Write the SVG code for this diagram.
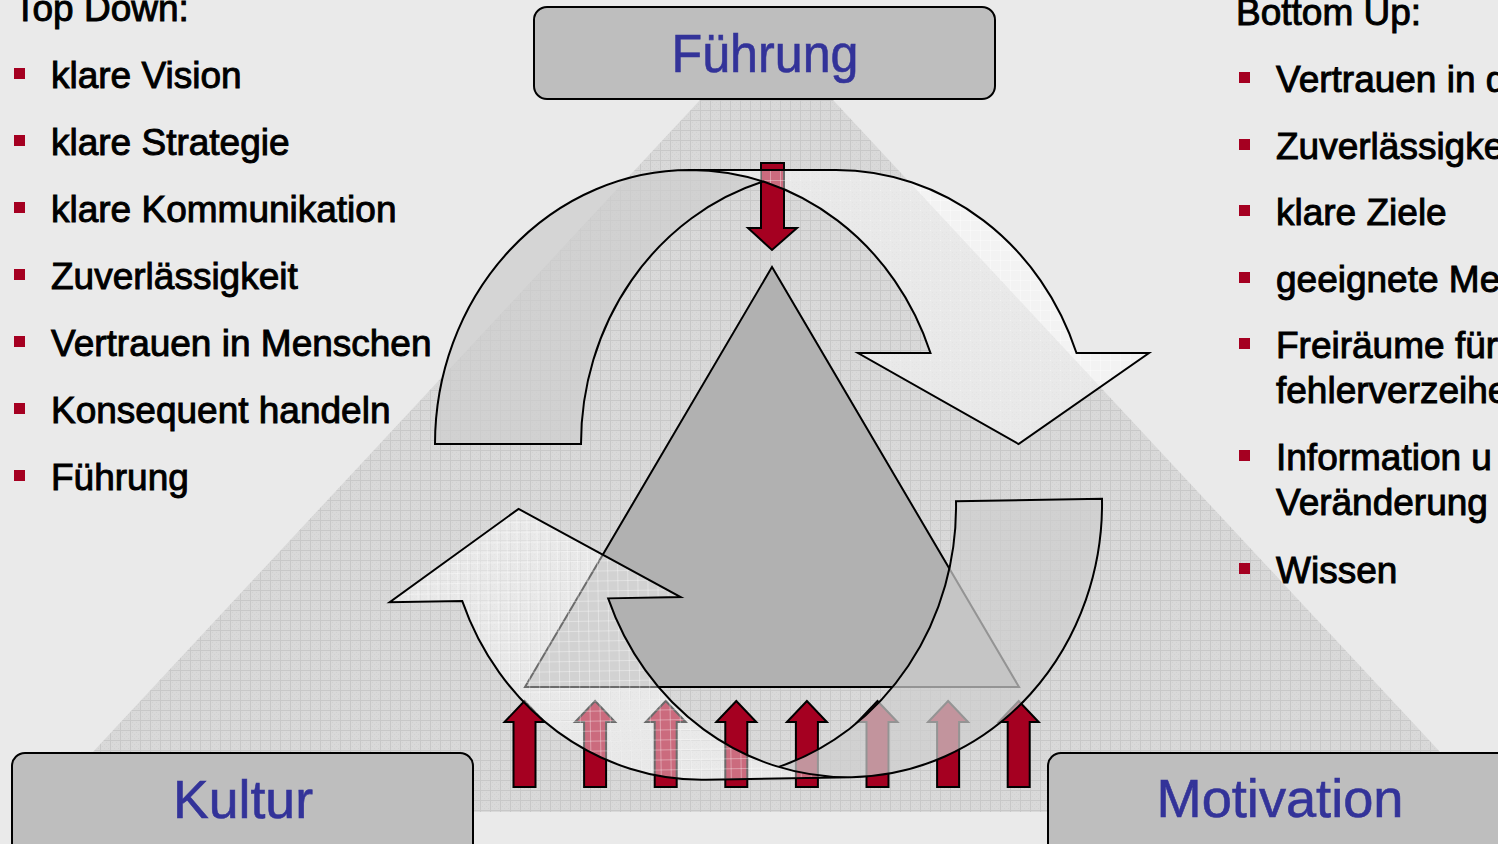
<svg xmlns="http://www.w3.org/2000/svg" width="1498" height="844" viewBox="0 0 1498 844">
<style>
.bt{font-family:"Liberation Sans",Arial,sans-serif;font-size:37px;fill:#000;stroke:#000;stroke-width:0.95}
.lbl{font-family:"Liberation Sans",Arial,sans-serif;font-size:54px;fill:#333399;stroke:#333399;stroke-width:0.6;text-anchor:middle}
.box{fill:#BEBEBE;stroke:#000;stroke-width:2}
.bul{fill:#A50021}
.red{fill:#A50021;stroke:#000;stroke-width:2}
.hd{fill:#FFFFFF;fill-opacity:0.42}
.tl{fill:#CDCDCD;fill-opacity:0.72}
.ol{fill:none;stroke:#000;stroke-width:2}
</style>
<defs>
  <!-- squared paper texture for the background pyramid -->
  <pattern id="grid" width="10" height="10" patternUnits="userSpaceOnUse">
    <rect width="10" height="10" fill="#D9D9D9"/>
    <path d="M2 2h1v1h-1zM4 4h1v1h-1zM6 6h1v1h-1zM8 8h1v1h-1zM2 6h1v1h-1zM6 2h1v1h-1zM4 8h1v1h-1zM8 4h1v1h-1z" fill="#D1D1D1"/>
    <path d="M0 0.5H10M0.5 0V10" stroke="#C8C8C8" stroke-width="1"/>
  </pattern>
  <!-- lighter squares laid over the translucent cycle arrows -->
  <pattern id="gridLight" width="10" height="10" patternUnits="userSpaceOnUse">
    <path d="M0 0.5H10M0.5 0V10" stroke="#FFFFFF" stroke-opacity="0.35" stroke-width="1"/>
  </pattern>
  <!-- curved down arrow: light head band, darker tail band, outline -->
  <path id="cyc-head" d="M1018.5 444L858 353H930.5A255 274 0 0 0 690 170H836A255 274 0 0 1 1076.5 353H1149Z"/>
  <path id="cyc-tail" d="M763 181.5A255 274 0 0 0 581 444H435A255 274 0 0 1 763 181.5Z"/>
  <path id="cyc-line" d="M763 181.5A255 274 0 0 0 581 444H435A255 274 0 0 1 690 170H836A255 274 0 0 1 1076.5 353H1149L1018.5 444L858 353H930.5A255 274 0 0 0 690 170"/>
  <path id="up" d="M-11 787V722H-20L0 701L20 722H11V787Z"/>
</defs>

<rect width="1498" height="844" fill="#EAEAEA"/>

<!-- background pyramid -->
<polygon points="766.5,28.6 37,812 1496,812" fill="url(#grid)"/>

<!-- central triangle -->
<g id="core">
  <polygon points="772,267 525,687 1019,687" fill="#B1B1B1" stroke="#000" stroke-width="2"/>
</g>

<!-- impulse arrows: one from the top, eight from below -->
<g id="impulses">
  <polygon class="red" points="761,163 784,163 784,228 797,228 772,250 748,228 761,228"/>
  <use href="#up" class="red" x="524.5"/>
  <use href="#up" class="red" x="595.1"/>
  <use href="#up" class="red" x="665.7"/>
  <use href="#up" class="red" x="736.3"/>
  <use href="#up" class="red" x="806.9"/>
  <use href="#up" class="red" x="877.5"/>
  <use href="#up" class="red" x="948.1"/>
  <use href="#up" class="red" x="1018.7"/>
</g>

<!-- cycle arrows -->
<g id="connectors">
  <g id="cycle-top">
    <use href="#cyc-tail" class="tl"/>
    <use href="#cyc-head" class="hd"/>
    <use href="#cyc-head" fill="url(#gridLight)"/>
    <use href="#cyc-line" class="ol"/>
  </g>
  <g id="cycle-bottom" transform="rotate(-1 1029 500) rotate(180 768.5 472)">
    <use href="#cyc-tail" class="tl"/>
    <use href="#cyc-head" class="hd"/>
    <use href="#cyc-head" fill="url(#gridLight)"/>
    <use href="#cyc-line" class="ol"/>
  </g>
</g>

<!-- corner nodes -->
<g id="fuehrung">
  <rect class="box" x="534" y="7" width="461" height="92" rx="13"/>
  <text class="lbl" x="765" y="72" textLength="187" lengthAdjust="spacingAndGlyphs">Führung</text>
</g>
<g id="kultur">
  <rect class="box" x="12" y="753" width="461" height="120" rx="13"/>
  <text class="lbl" x="243" y="818" textLength="140" lengthAdjust="spacingAndGlyphs">Kultur</text>
</g>
<g id="motivation">
  <rect class="box" x="1048" y="753" width="480" height="120" rx="13"/>
  <text class="lbl" x="1280" y="817" textLength="247" lengthAdjust="spacingAndGlyphs">Motivation</text>
</g>

<!-- top down list -->
<g id="top-down">
  <text class="bt" x="14" y="21">Top Down:</text>
  <rect class="bul" x="14" y="68" width="11" height="11"/>
  <text class="bt" x="51" y="88">klare Vision</text>
  <rect class="bul" x="14" y="135" width="11" height="11"/>
  <text class="bt" x="51" y="155">klare Strategie</text>
  <rect class="bul" x="14" y="202" width="11" height="11"/>
  <text class="bt" x="51" y="222">klare Kommunikation</text>
  <rect class="bul" x="14" y="269" width="11" height="11"/>
  <text class="bt" x="51" y="289">Zuverlässigkeit</text>
  <rect class="bul" x="14" y="336" width="11" height="11"/>
  <text class="bt" x="51" y="356">Vertrauen in Menschen</text>
  <rect class="bul" x="14" y="403" width="11" height="11"/>
  <text class="bt" x="51" y="423">Konsequent handeln</text>
  <rect class="bul" x="14" y="470" width="11" height="11"/>
  <text class="bt" x="51" y="490">Führung</text>
</g>

<!-- bottom up list -->
<g id="bottom-up">
  <text class="bt" x="1236" y="25">Bottom Up:</text>
  <rect class="bul" x="1239" y="72" width="11" height="11"/>
  <text class="bt" x="1276" y="92">Vertrauen in d</text>
  <rect class="bul" x="1239" y="139" width="11" height="11"/>
  <text class="bt" x="1276" y="159">Zuverlässigke</text>
  <rect class="bul" x="1239" y="205" width="11" height="11"/>
  <text class="bt" x="1276" y="225">klare Ziele</text>
  <rect class="bul" x="1239" y="272" width="11" height="11"/>
  <text class="bt" x="1276" y="292">geeignete Me</text>
  <rect class="bul" x="1239" y="338" width="11" height="11"/>
  <text class="bt" x="1276" y="358">Freiräume für</text>
  <text class="bt" x="1276" y="403">fehlerverzeihe</text>
  <rect class="bul" x="1239" y="450" width="11" height="11"/>
  <text class="bt" x="1276" y="470">Information u</text>
  <text class="bt" x="1276" y="515">Veränderung</text>
  <rect class="bul" x="1239" y="563" width="11" height="11"/>
  <text class="bt" x="1276" y="583">Wissen</text>
</g>
</svg>
